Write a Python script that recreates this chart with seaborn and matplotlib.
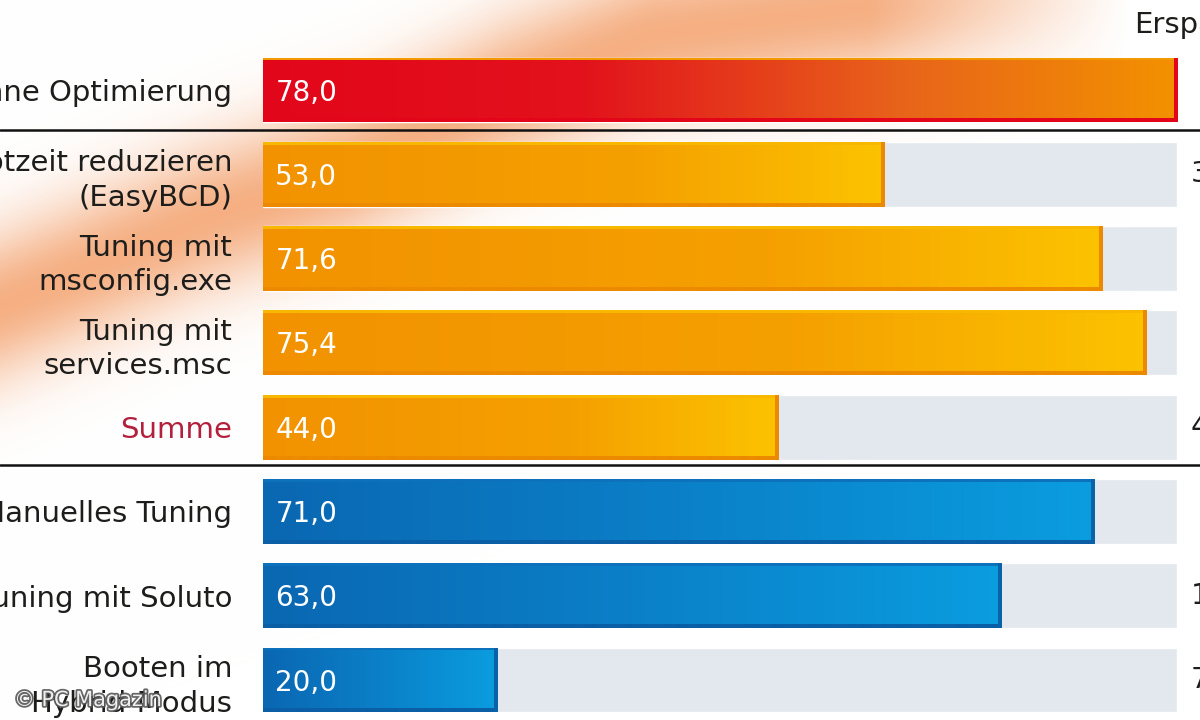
import numpy as np
import pandas as pd
import matplotlib
matplotlib.use("Agg")
import matplotlib.pyplot as plt
import matplotlib.transforms as mtransforms
import matplotlib.patheffects as pe
from matplotlib.colors import to_rgb
import seaborn as sns

# Daten
labels = ["Ohne Optimierung", "Bootzeit reduzieren\n(EasyBCD)", "Tuning mit\nmsconfig.exe",
          "Tuning mit\nservices.msc", "Summe", "Manuelles Tuning", "Tuning mit Soluto",
          "Booten im\nHybrid-Modus"]
values = [78.0, 53.0, 71.6, 75.4, 44.0, 71.0, 63.0, 20.0]
savings = ["", "32 %", "8 %", "3 %", "44 %", "9 %", "19 %", "74 %"]
groups = ["ohne", "einzeln", "einzeln", "einzeln", "einzeln", "tool", "tool", "tool"]
scale_max = 78.0

sns.set_theme(style="white")
plt.rcParams["font.family"] = ["DejaVu Sans"]

W, H = 1200, 720
fig = plt.figure(figsize=(12, 7.2), dpi=100)

# Hintergrund: orangefarbener Schweif oben links
bg = fig.add_axes([0, 0, 1, 1], zorder=0)
yy, xx = np.mgrid[0:H, 0:W].astype(float)
yc = np.interp(xx, [0, 200, 350, 500, 650, 850, 1050, 1200], [305, 220, 170, 95, 35, 8, -15, -30])
glow = np.exp(-((yy - yc) / 75.0) ** 2) * np.clip((1130 - xx) / 260.0, 0, 1)
glow = np.clip(glow * 0.75, 0, 1)
peach = np.array(to_rgb("#f2955a"))
img = np.ones((H, W, 3)) * (1 - glow[..., None]) + peach * glow[..., None]
bg.imshow(img, extent=[0, W, H, 0], aspect="auto", interpolation="bilinear")
bg.axis("off")

# Hauptachse
ax = fig.add_axes([263 / W, 0, 914 / W, 1], zorder=1)
ax.set_facecolor("none")

df = pd.DataFrame({"label": labels, "value": values, "max": scale_max, "group": groups})
sns.barplot(data=df, x="max", y="label", color="#e3e8ee", width=0.77, saturation=1,
            errorbar=None, ax=ax)
n_track = len(ax.patches)
sns.barplot(data=df, x="value", y="label", color="#f39200", width=0.77, saturation=1,
            errorbar=None, ax=ax)
bars = ax.patches[n_track:]

styles = {
    "ohne": dict(stops=[(0, "#e3061a"), (0.35, "#e2121c"), (0.7, "#e8641a"), (1, "#f39200")],
                 top="#f39a00", bottom="#e3061a", right="#e3061a"),
    "einzeln": dict(stops=[(0, "#f29200"), (0.6, "#f5a000"), (1, "#fcc300")],
                    top="#f9b800", bottom="#ec8a00", right="#ec8a00"),
    "tool": dict(stops=[(0, "#0b67b2"), (0.5, "#0a80c8"), (1, "#0a9ddf")],
                 top="#0d72bb", bottom="#0a5fa6", right="#0a62a8"),
}
px_per_unit = 914 / scale_max


def bar_image(style, w_px, h_px, edge=4):
    w_px = max(int(w_px), 2)
    pos = np.linspace(0, 1, w_px)
    st = [s for s, _ in style["stops"]]
    cols = np.array([to_rgb(c) for _, c in style["stops"]])
    row = np.stack([np.interp(pos, st, cols[:, k]) for k in range(3)], axis=1)
    im = np.repeat(row[None, :, :], h_px, axis=0)
    im[:3, :, :] = to_rgb(style["top"])
    im[-edge:, :, :] = to_rgb(style["bottom"])
    im[:, -edge:, :] = to_rgb(style["right"])
    return im


for patch, val, grp in zip(bars, values, groups):
    x0, y0 = patch.get_x(), patch.get_y()
    w, h = patch.get_width(), patch.get_height()
    im = bar_image(styles[grp], w * px_per_unit, 65)
    art = ax.imshow(im, extent=(x0, x0 + w, y0 + h, y0), aspect="auto",
                    interpolation="bilinear", zorder=3)
    art.set_clip_path(patch)
    patch.set_facecolor("none")
    patch.set_edgecolor("none")

for i, val in enumerate(values):
    ax.text(1.05, i + 0.03, f"{val:.1f}".replace(".", ","), color="white", fontsize=20,
            va="center", ha="left", zorder=5)

ax.set_xlim(0, scale_max)
ax.set_ylim(7.474, -1.068)
ax.set_xticks([])
ax.set_xlabel("")
ax.set_ylabel("")
ax.set_yticks(range(len(labels)))
ax.set_yticklabels(labels, linespacing=1.3)
ax.tick_params(axis="y", length=0, pad=22, labelsize=21, labelcolor="#1d1d1b")
ax.get_yticklabels()[4].set_color("#b3203c")
sns.despine(ax=ax, left=True, bottom=True)

# Trennlinien über die ganze Breite
trans = mtransforms.blended_transform_factory(fig.transFigure, ax.transData)
for yl in [0.47, 4.45]:
    ax.plot([0, 1], [yl, yl], transform=trans, color="#111111", lw=1.8, clip_on=False, zorder=4)

# Spalte "Ersparnis" (rechts angeschnitten)
fig.text(1134 / W, 1 - 25 / H, "Ersparnis", fontsize=21, color="#1d1d1b", ha="left", va="center")
for i, s in enumerate(savings):
    if s:
        ax.text(1228 / W, i, s, transform=trans, fontsize=21, color="#1d1d1b",
                ha="center", va="center", clip_on=False)

# Wasserzeichen
fig.text(14 / W, 1 - 700 / H, "© PC Magazin", fontsize=15, color="white", ha="left", va="center",
         alpha=0.9, path_effects=[pe.withStroke(linewidth=2.5, foreground="#555555")], zorder=10)

fig.savefig("out.png", dpi=100)
plt.close(fig)
